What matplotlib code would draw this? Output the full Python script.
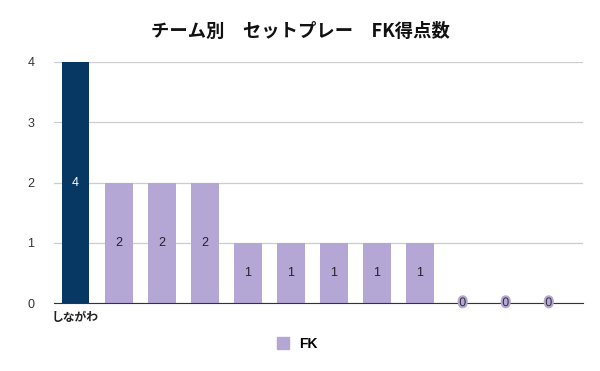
import matplotlib.pyplot as plt
import matplotlib.patheffects as pe
from matplotlib.patches import Patch

plt.rcParams["font.family"] = ["Noto Sans CJK JP", "DejaVu Sans"]

teams = ["しながわ", "", "", "", "", "", "", "", "", "", "", ""]
fk_goals = [4, 2, 2, 2, 1, 1, 1, 1, 1, 0, 0, 0]

dark_blue = "#073763"
lavender = "#b4a7d6"
colors = [dark_blue] + [lavender] * (len(fk_goals) - 1)

fig = plt.figure(figsize=(6, 3.71), dpi=100)
ax = fig.add_axes([0.09, 0.183, 0.882, 0.65])

x = list(range(len(fk_goals)))
bars = ax.bar(x, fk_goals, width=0.65, color=colors, zorder=3)

num_font = ["Liberation Sans", "DejaVu Sans"]
for i, (bar, v) in enumerate(zip(bars, fk_goals)):
    cx = bar.get_x() + bar.get_width() / 2
    if v == 0:
        ax.text(cx, 0, "0", ha="center", va="center", fontsize=9, color="#333333",
                zorder=5, family=num_font,
                path_effects=[pe.withStroke(linewidth=3, foreground=lavender)])
    else:
        ax.text(cx, v / 2, str(v), ha="center", va="center", fontsize=9,
                color="white" if i == 0 else "#222222", zorder=5, family=num_font)

ax.set_xlim(-0.5, len(fk_goals) - 0.2)
ax.set_ylim(0, 4)
ax.set_yticks([0, 1, 2, 3, 4])
ax.set_xticks(x)
ax.set_xticklabels(teams, fontsize=8.5, color="#222222", fontweight="bold")
for lbl in ax.get_yticklabels():
    lbl.set_family(num_font)
ax.tick_params(axis="y", length=0, labelsize=9, labelcolor="#333333", pad=14)
ax.tick_params(axis="x", length=0, pad=6)
ax.grid(axis="y", color="#cccccc", linewidth=0.9, zorder=0)
for side in ["top", "right", "left"]:
    ax.spines[side].set_visible(False)
ax.spines["bottom"].set_color("#333333")
ax.spines["bottom"].set_zorder(4)

fig.text(0.5, 0.915, "チーム別　セットプレー　FK得点数", ha="center", va="center",
         fontsize=13.2, fontweight="bold", color="#111111")

fig.legend(handles=[Patch(color=lavender, label="FK")], loc="center",
           bbox_to_anchor=(0.495, 0.073), frameon=False, handlelength=0.9,
           handleheight=0.9, handletextpad=0.7,
           prop={"weight": "bold", "size": 10, "family": num_font})

fig.savefig("out.png", dpi=100)
